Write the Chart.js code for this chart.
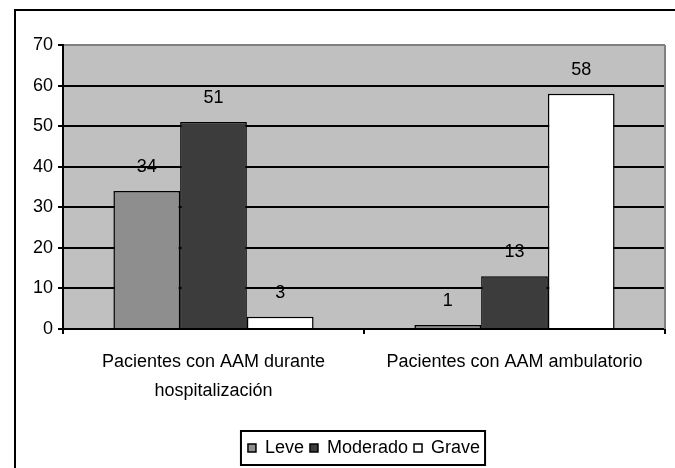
<!DOCTYPE html>
<html>
  <head>
    <meta http-equiv="Content-Type" content="text/html;charset=utf-8"/>
    <script src="https://cdn.jsdelivr.net/npm/chart.js@4/dist/chart.umd.min.js"></script>
    <style type="text/css">
    html, body {
        margin: 0;
        padding: 0;
        background: #fff;
    }
    #chart-container {
        width: 675px;
        height: 468px;
    }
    </style>
</head>
<body>
    <div id="chart-container"><canvas id="chart" width="675" height="468"></canvas></div>
    <script type="text/javascript">
    // categories + series
    var categories = [['Pacientes con AAM durante', 'hospitalización'], 'Pacientes con AAM ambulatorio'];
    var seriesNames = ['Leve', 'Moderado', 'Grave'];
    var leve = [34, 1];
    var moderado = [51, 13];
    var grave = [3, 58];
    var seriesColors = ['#8e8e8e', '#3c3c3c', '#ffffff'];
    var yTicks = [0, 10, 20, 30, 40, 50, 60, 70];

    var FONT = '"Liberation Sans", Arial, sans-serif';

    /* gray plot background, gray top/right edge, outer frame, value labels, legend box */
    var decorations = {
        id: 'decorations',
        beforeDraw: function(chart) {
            var ctx = chart.ctx, a = chart.chartArea;
            ctx.save();
            ctx.fillStyle = '#c0c0c0';
            ctx.fillRect(a.left, a.top, a.right - a.left, a.bottom - a.top);
            ctx.restore();
        },
        afterDatasetsDraw: function(chart) {
            var ctx = chart.ctx, a = chart.chartArea;
            ctx.save();
            // right edge of plot
            ctx.strokeStyle = '#808080';
            ctx.lineWidth = 2;
            ctx.beginPath();
            ctx.moveTo(a.right, a.top);
            ctx.lineTo(a.right, a.bottom);
            ctx.stroke();
            // value labels above each bar
            ctx.fillStyle = '#000';
            ctx.font = '18px ' + FONT;
            ctx.textAlign = 'center';
            ctx.textBaseline = 'middle';
            chart.data.datasets.forEach(function(ds, i) {
                var meta = chart.getDatasetMeta(i);
                meta.data.forEach(function(bar, j) {
                    ctx.fillText(String(ds.data[j]), bar.x, bar.y - 24);
                });
            });
            ctx.restore();
        },
        afterDraw: function(chart) {
            var ctx = chart.ctx;
            ctx.save();
            // outer frame (only top and left edges fall inside the picture)
            ctx.strokeStyle = '#000';
            ctx.lineWidth = 2;
            ctx.beginPath();
            ctx.moveTo(15, chart.height);
            ctx.lineTo(15, 10);
            ctx.lineTo(chart.width, 10);
            ctx.stroke();
            // box round the legend
            var boxes = chart.legend.legendHitBoxes;
            if (boxes && boxes.length) {
                var first = boxes[0], last = boxes[boxes.length - 1];
                var cy = first.top + first.height / 2;
                var x0 = first.left - 7, x1 = last.left + last.width + 5;
                ctx.lineWidth = 2;
                ctx.strokeRect(x0, cy - 17, x1 - x0, 34);
            }
            ctx.restore();
        }
    };

    new Chart(document.getElementById('chart'), {
        type: 'bar',
        data: {
            labels: categories,
            datasets: [
                {label: seriesNames[0], data: leve, backgroundColor: seriesColors[0]},
                {label: seriesNames[1], data: moderado, backgroundColor: seriesColors[1]},
                {label: seriesNames[2], data: grave, backgroundColor: seriesColors[2]}
            ].map(function(d) {
                d.borderColor = '#000';
                d.borderWidth = 1.5;
                d.barPercentage = 1;
                d.categoryPercentage = 0.665;
                return d;
            })
        },
        options: {
            responsive: false,
            animation: false,
            devicePixelRatio: 1,
            layout: {padding: {left: 0, right: 10, top: 45, bottom: 1}},
            plugins: {
                tooltip: {enabled: false},
                legend: {
                    position: 'bottom',
                    fullSize: false,
                    labels: {
                        boxWidth: 8,
                        boxHeight: 8,
                        padding: 6,
                        color: '#000',
                        font: {family: FONT, size: 18}
                    }
                }
            },
            scales: {
                x: {
                    grid: {
                        display: true,
                        offset: true,
                        drawOnChartArea: false,
                        drawTicks: true,
                        tickLength: 5,
                        color: '#000',
                        lineWidth: 2
                    },
                    border: {display: true, color: '#000', width: 2},
                    ticks: {
                        color: '#000',
                        padding: 14,
                        maxRotation: 0,
                        font: {family: FONT, size: 18, lineHeight: 1.6}
                    },
                    afterFit: function(scale) { scale.height = 104; }
                },
                y: {
                    min: 0,
                    max: 70,
                    afterBuildTicks: function(scale) {
                        scale.ticks = yTicks.map(function(v) { return {value: v}; });
                    },
                    grid: {
                        color: function(c) { return c.tick && c.tick.value === 70 ? '#808080' : '#000'; },
                        lineWidth: 2,
                        drawTicks: true,
                        tickLength: 5,
                        tickColor: '#000'
                    },
                    border: {display: true, color: '#000', width: 2},
                    ticks: {
                        color: '#000',
                        padding: 5,
                        font: {family: FONT, size: 18}
                    },
                    afterFit: function(scale) { scale.width = 63; }
                }
            }
        },
        plugins: [decorations]
    });
    </script>
</body>
</html>
